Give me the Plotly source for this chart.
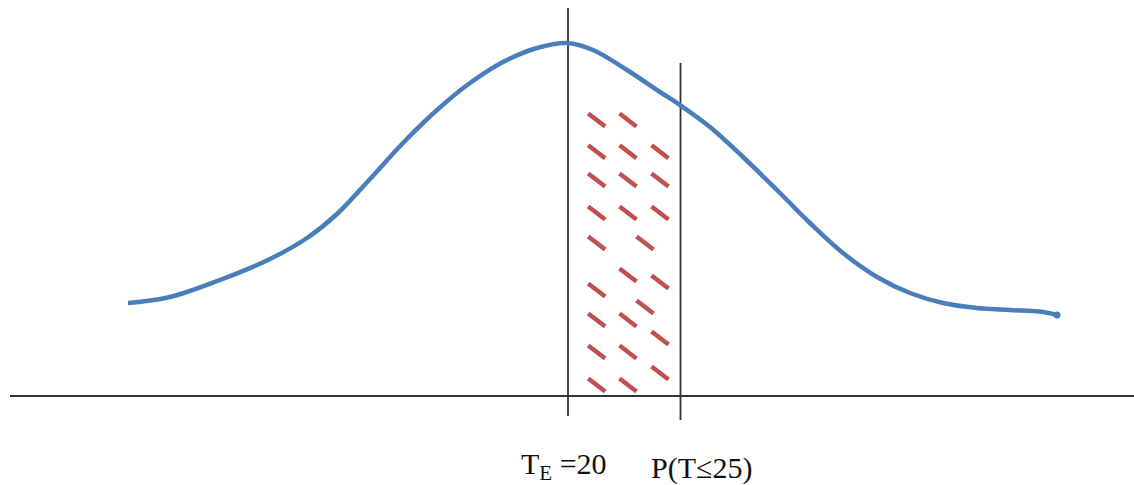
import plotly.graph_objects as go

# Bell curve (x position, height above baseline)
curve_x = [128, 170, 220, 270, 307, 337, 370, 403, 437, 470, 503, 537, 567,
           593, 627, 660, 680, 710, 743, 777, 810, 843, 877, 910, 943, 977,
           1010, 1043, 1057]
curve_y = [93, 99, 116, 137, 158, 182, 217, 253, 286, 313, 334, 348, 353,
           346, 326, 304, 291, 269, 239, 206, 173, 143, 119, 103, 93, 88,
           86, 84, 81]

# Vertical marker lines: x, bottom, top (height above baseline)
vline_x = [568, 680.5]
vline_bottom = [-20, -24]
vline_top = [388, 333]

# Baseline extent
base_x = [10, 1134]

# Hatch dash centres in the shaded region
dash_x = [596.7, 628, 596.7, 628, 660, 596.7, 628, 660, 596.7, 628, 660,
          596.7, 645, 628, 660, 596.7, 645, 596.7, 628, 660, 596.7, 628,
          660, 596.7, 628]
dash_y = [276, 276, 244.3, 244.3, 244.3, 216, 216, 216, 183, 183, 183,
          153, 153, 121, 114, 106, 89, 76, 76, 58, 44, 44, 23, 11, 11]

labels = ["T<sub>E</sub> =20", "P(T≤25)"]
label_x = [519, 649]

HX, HY = 8.5, 6.5

fig = go.Figure()

# baseline
fig.add_trace(go.Scatter(x=base_x, y=[0, 0], mode="lines",
                         line=dict(color="#333333", width=1.8),
                         hoverinfo="skip", showlegend=False))
# vertical lines
vx, vy = [], []
for x, b, t in zip(vline_x, vline_bottom, vline_top):
    vx += [x, x, None]
    vy += [b, t, None]
fig.add_trace(go.Scatter(x=vx, y=vy, mode="lines",
                         line=dict(color="#333333", width=1.8),
                         hoverinfo="skip", showlegend=False))
# hatch dashes
dx, dy = [], []
for cx, cy in zip(dash_x, dash_y):
    dx += [cx - HX, cx + HX, None]
    dy += [cy + HY, cy - HY, None]
fig.add_trace(go.Scatter(x=dx, y=dy, mode="lines",
                         line=dict(color="#c0504d", width=4.5),
                         hoverinfo="skip", showlegend=False))
# curve
fig.add_trace(go.Scatter(x=curve_x, y=curve_y, mode="lines",
                         line=dict(color="#4a7ebb", width=4.5, shape="spline",
                                   smoothing=1.0),
                         hoverinfo="skip", showlegend=False))
fig.add_trace(go.Scatter(x=[curve_x[-1]], y=[curve_y[-1]], mode="markers",
                         marker=dict(color="#4a7ebb", size=7),
                         hoverinfo="skip", showlegend=False))

for t, x in zip(labels, label_x):
    fig.add_annotation(x=x, y=0, xref="x", yref="paper", yshift=-2,
                       text=t, showarrow=False,
                       xanchor="left", yanchor="bottom",
                       font=dict(family="Liberation Serif", size=30,
                                 color="#111111"))

fig.update_layout(
    width=1134, height=485,
    margin=dict(l=0, r=0, t=0, b=0),
    paper_bgcolor="white", plot_bgcolor="white",
    xaxis=dict(range=[0, 1134], visible=False, fixedrange=True),
    yaxis=dict(range=[-89, 396], visible=False, fixedrange=True),
    showlegend=False,
)

fig.write_html("out.html",
               config={"displayModeBar": False, "staticPlot": True},
               post_script="document.body.style.margin='0';"
                           "document.body.style.overflow='hidden';")
